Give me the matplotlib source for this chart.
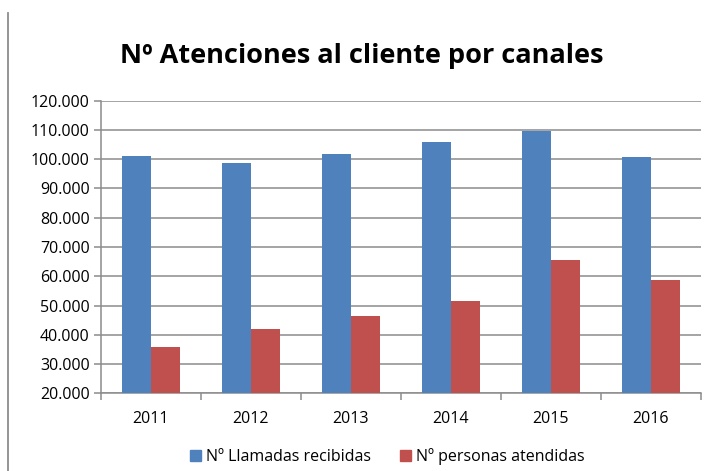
import numpy as np
import matplotlib
matplotlib.use("Agg")
import matplotlib.pyplot as plt
from matplotlib.ticker import FuncFormatter, FixedLocator
from matplotlib.lines import Line2D

plt.rcParams["font.family"] = ["Open Sans", "DejaVu Sans"]

# datos
anios = ["2011", "2012", "2013", "2014", "2015", "2016"]
llamadas = [101100, 98700, 101800, 105900, 109800, 100800]
personas = [35800, 42000, 46400, 51500, 65600, 58700]
serie_nombres = ["Nº Llamadas recibidas", "Nº personas atendidas"]
titulo = "Nº Atenciones al cliente por canales"

AZUL = "#4F81BD"
ROJO = "#C0504D"
GRIS = "#8C8C8C"

W, H = 710, 471
fig = plt.figure(figsize=(W / 100, H / 100), dpi=100)
ax = fig.add_axes([100.7 / W, (H - 393.3) / H, 600 / W, 292.6 / H])

x = np.arange(len(anios))
ancho = 0.29
ax.bar(x - ancho / 2, llamadas, ancho, color=AZUL, zorder=3)
ax.bar(x + ancho / 2, personas, ancho, color=ROJO, zorder=3)

ax.set_xlim(-0.5, len(anios) - 0.5)
ax.set_ylim(20000, 120000)
ax.set_yticks(np.arange(20000, 120001, 10000))
ax.yaxis.set_major_formatter(FuncFormatter(lambda v, p: f"{v:,.0f}".replace(",", ".")))
ax.grid(axis="y", color=GRIS, linewidth=1.1, zorder=0)

ax.set_xticks(x)
ax.set_xticklabels(anios)
ax.xaxis.set_minor_locator(FixedLocator(np.arange(-0.5, len(anios), 1.0)))
ax.tick_params(axis="x", which="major", length=0, pad=13, labelsize=11.5, colors="black")
ax.tick_params(axis="x", which="minor", length=5, width=1.1, color=GRIS)
ax.tick_params(axis="y", length=5, width=1.1, color=GRIS, labelsize=11.5, pad=3,
               labelcolor="black")

for s in ["top", "right"]:
    ax.spines[s].set_visible(False)
for s in ["left", "bottom"]:
    ax.spines[s].set_color(GRIS)
    ax.spines[s].set_linewidth(1.1)

fig.text(362 / W, 1 - 56 / H, titulo, ha="center", va="center",
         fontsize=19.5, fontweight="bold")

# borde izquierdo
fig.add_artist(Line2D([8 / W, 8 / W], [0, 1 - 13 / H], color=GRIS, linewidth=1.3))

handles = [plt.Rectangle((0, 0), 1, 1, color=c) for c in (AZUL, ROJO)]
fig.legend(handles, serie_nombres, loc="center", bbox_to_anchor=(387 / W, 1 - 457 / H),
           ncol=2, frameon=False, fontsize=11.5, handlelength=0.7, handleheight=0.7,
           handletextpad=0.3, columnspacing=1.8)

fig.savefig("out.png", dpi=100)
